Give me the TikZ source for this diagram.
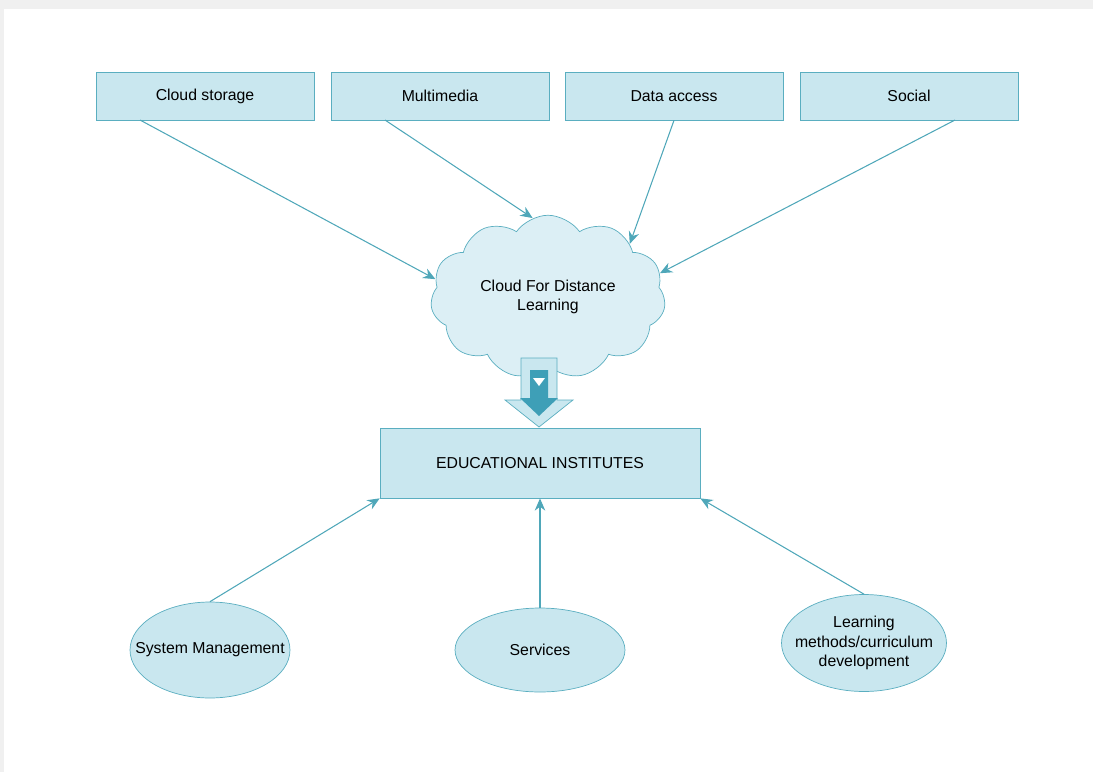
\documentclass[tikz,border=0pt]{standalone}
\usepackage{fontspec}
\setmainfont{Liberation Sans}
\usetikzlibrary{positioning,shapes.symbols,shapes.geometric,arrows.meta}

\definecolor{boxfill}{HTML}{C9E7EF}
\definecolor{boxline}{HTML}{5AAEC0}
\definecolor{linkcol}{HTML}{4FA7B9}
\definecolor{darkblue}{HTML}{3E9FB7}

\tikzset{
  topbox/.style={draw=boxline,fill=boxfill,minimum width=4.36cm,minimum height=0.96cm,font=\small},
  ovalbox/.style={ellipse,draw=boxline,fill=boxfill,inner sep=0pt},
  ovaltext/.style={label={[font=\small,align=center]center:#1}},
  link/.style={linkcol,semithick,-{Stealth[length=7pt,width=6pt]}}
}

\begin{document}
\begin{tikzpicture}[x=0.02cm,y=-0.02cm]

    \useasboundingbox (0,0) rectangle (1093,772);
    \fill[gray!12] (0,0) rectangle (1093,9); %frame at top
    \fill[gray!12] (0,0) rectangle (4,772); %frame at left

    \node[topbox] (storage) at (205,96) {Cloud storage};
    \node[topbox] (media) at (440,96) {Multimedia};
    \node[topbox] (data) at (674,96) {Data access};
    \node[topbox] (social) at (909,96) {Social};

    \node[cloud,cloud puffs=11,cloud puff arc=110,aspect=1.5,draw=boxline,fill=boxfill!65!white,
      minimum width=4.7cm,minimum height=2.8cm,align=center,font=\small] (cloud) at (548,297)
      {Cloud For Distance\\Learning};

    \node[draw=boxline,fill=boxfill,minimum width=6.4cm,minimum height=1.4cm,font=\small] (edu) at (540,463)
      {EDUCATIONAL INSTITUTES};

    % block arrow between cloud and institutes
    \draw[boxline,fill=boxfill] (521,358) -- (557,358) -- (557,400) -- (573,400) -- (539,427)
      -- (505,400) -- (521,400) -- cycle;
    \fill[darkblue] (530,370) -- (548,370) -- (548,398) -- (558,398) -- (539,416) -- (520,398) -- (530,398) -- cycle;
    \fill[white] (533,378) -- (545,378) -- (539,386) -- cycle;

    \node[ovalbox,minimum width=3.2cm,minimum height=1.92cm,ovaltext={System Management}] (sysman) at (210,650) {};
    \node[ovalbox,minimum width=3.4cm,minimum height=1.68cm,ovaltext={Services}] (serv) at (540,650) {};
    \node[ovalbox,minimum width=3.3cm,minimum height=1.94cm,
      ovaltext={Learning\\methods/curriculum\\development}] (learn) at (864,643) {};

    \coordinate (storageout) at (140,120);
    \coordinate (mediaout) at (385,120);
    \coordinate (socialout) at (955,120);

    \draw[link] (storageout) -- (cloud.171);
    \draw[link] (mediaout) -- (cloud.101);
    \draw[link] (data.south) -- (cloud.33);
    \draw[link] (socialout) -- (cloud.12);

    \draw[link] (sysman.north) -- (edu.south west);
    \draw[link] (serv.north) -- (edu.south);
    \draw[link] (learn.north) -- (edu.south east);

\end{tikzpicture}
\end{document}
